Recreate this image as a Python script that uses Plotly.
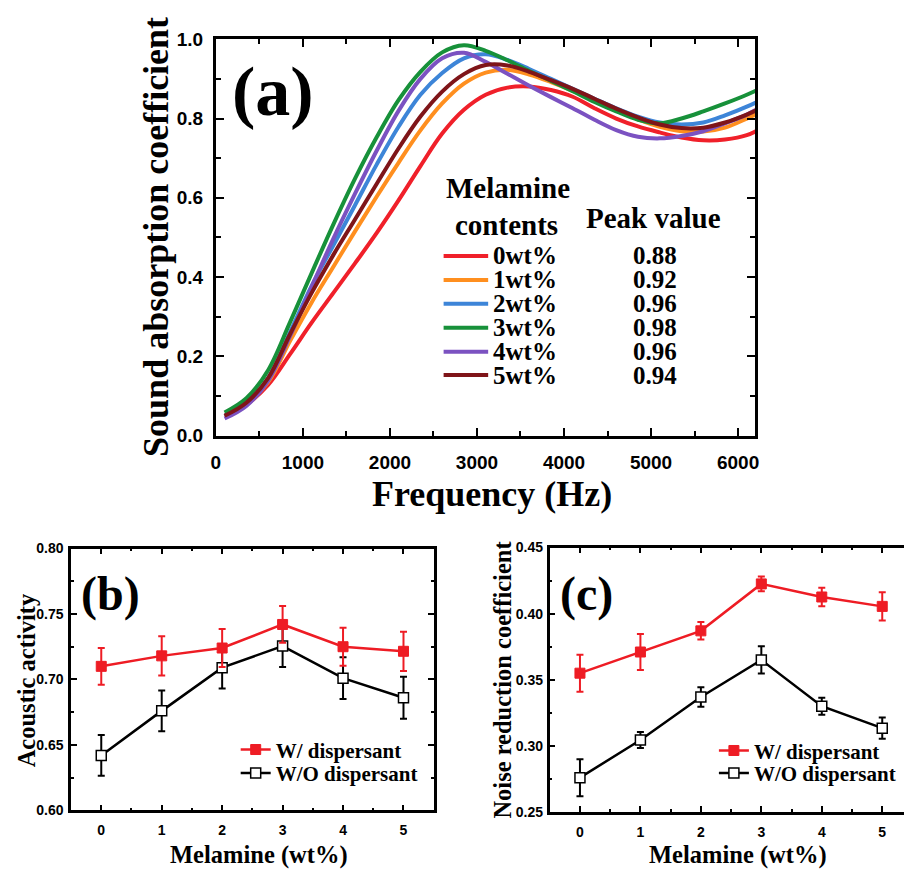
import plotly.graph_objects as go

# ---------------- data ----------------
freq = [100, 350, 600, 850, 1100, 1350, 1600, 1850, 2100, 2350, 2600, 2850, 3100, 3350, 3600,
        3850, 4100, 4350, 4600, 4850, 5100, 5350, 5600, 5850, 6100, 6350]
abs_0wt = [0.05, 0.078, 0.128, 0.205, 0.285, 0.36, 0.435, 0.512, 0.594, 0.68, 0.762, 0.822, 0.86,
           0.878, 0.881, 0.872, 0.855, 0.826, 0.80, 0.78, 0.765, 0.752, 0.745, 0.747, 0.758, 0.785]
abs_1wt = [0.05, 0.08, 0.135, 0.238, 0.336, 0.426, 0.516, 0.604, 0.689, 0.77, 0.838, 0.888, 0.916,
           0.923, 0.911, 0.892, 0.87, 0.845, 0.821, 0.798, 0.779, 0.768, 0.767, 0.777, 0.80, 0.825]
abs_2wt = [0.05, 0.082, 0.145, 0.26, 0.378, 0.48, 0.582, 0.685, 0.78, 0.86, 0.915, 0.952, 0.962,
           0.948, 0.925, 0.90, 0.875, 0.85, 0.826, 0.805, 0.79, 0.785, 0.79, 0.808, 0.83, 0.856]
abs_3wt = [0.058, 0.094, 0.165, 0.285, 0.41, 0.533, 0.649, 0.754, 0.847, 0.918, 0.967, 0.985, 0.971,
           0.947, 0.92, 0.895, 0.869, 0.842, 0.818, 0.797, 0.788, 0.80, 0.818, 0.838, 0.86, 0.885]
abs_4wt = [0.043, 0.075, 0.138, 0.25, 0.375, 0.497, 0.611, 0.72, 0.82, 0.90, 0.952, 0.966, 0.943,
           0.913, 0.883, 0.854, 0.826, 0.797, 0.771, 0.754, 0.75, 0.756, 0.768, 0.788, 0.81, 0.84]
abs_5wt = [0.05, 0.083, 0.145, 0.255, 0.36, 0.456, 0.546, 0.636, 0.725, 0.805, 0.868, 0.912, 0.935,
           0.934, 0.918, 0.897, 0.875, 0.85, 0.825, 0.803, 0.785, 0.776, 0.777, 0.79, 0.81, 0.835]
series_a = [abs_0wt, abs_1wt, abs_2wt, abs_3wt, abs_4wt, abs_5wt]
labels_a = ["0wt%", "1wt%", "2wt%", "3wt%", "4wt%", "5wt%"]
peaks_a = ["0.88", "0.92", "0.96", "0.98", "0.96", "0.94"]
colors_a = ["#f0202a", "#ff8f1f", "#3d85d8", "#17913a", "#7b52c1", "#7f1519"]

melamine = [0, 1, 2, 3, 4, 5]
aa_w = [0.710, 0.718, 0.724, 0.742, 0.725, 0.7215]
aa_w_err = [0.014, 0.015, 0.0145, 0.014, 0.0145, 0.015]
aa_wo = [0.642, 0.676, 0.709, 0.7255, 0.701, 0.686]
aa_wo_err = [0.0155, 0.0156, 0.016, 0.016, 0.016, 0.016]

nrc_w = [0.355, 0.371, 0.387, 0.4225, 0.4126, 0.4055]
nrc_w_err = [0.014, 0.0136, 0.0066, 0.0056, 0.007, 0.0107]
nrc_wo = [0.276, 0.3045, 0.337, 0.365, 0.330, 0.3134]
nrc_wo_err = [0.014, 0.006, 0.0074, 0.0103, 0.0064, 0.008]

W, H = 908, 878
SERIF = "Liberation Serif, Times New Roman, serif"
SANS = "Liberation Sans, Arial, sans-serif"
RED = "#ee1c24"


def px(x):
    return x / W


def py(y):
    return 1 - y / H


fig = go.Figure()

# ---------------- panel (a) ----------------
for vals, c, lab in zip(series_a, colors_a, labels_a):
    fig.add_trace(go.Scatter(x=freq, y=vals, mode="lines",
                             line=dict(color=c, width=4, shape="spline", smoothing=1.0),
                             name=lab, showlegend=False, xaxis="x", yaxis="y"))


# ---------------- panel (b) & (c) ----------------
def add_pair(y_wo, e_wo, y_w, e_w, xa, ya, leg_w, leg_wo):
    fig.add_trace(go.Scatter(x=melamine, y=y_wo, mode="lines+markers", name="W/O dispersant",
                             line=dict(color="black", width=2.5),
                             marker=dict(symbol="square", size=10, color="white",
                                         line=dict(color="black", width=1.5)),
                             error_y=dict(type="data", array=e_wo, color="black", thickness=2, width=3.5),
                             xaxis=xa, yaxis=ya, legend=leg_wo))
    fig.add_trace(go.Scatter(x=melamine, y=y_w, mode="lines+markers", name="W/ dispersant",
                             line=dict(color=RED, width=2.5),
                             marker=dict(symbol="square", size=10, color=RED, line=dict(color=RED, width=1)),
                             error_y=dict(type="data", array=e_w, color=RED, thickness=2, width=3.5),
                             xaxis=xa, yaxis=ya, legend=leg_w))


add_pair(aa_wo, aa_wo_err, aa_w, aa_w_err, "x2", "y2", "legend", "legend2")
add_pair(nrc_wo, nrc_wo_err, nrc_w, nrc_w_err, "x3", "y3", "legend3", "legend4")

tickfont_a = dict(family=SANS, size=19, color="black", weight="bold")
tickfont_b = dict(family=SANS, size=14, color="black", weight="bold")


def axis(domain, rng, dtick, minor_dtick, tickfont, lw, tl, fmt=None, mirror=True, anchor=None, standoff=0):
    d = dict(domain=domain, range=rng, dtick=dtick, tick0=0, ticks="inside", ticklen=tl, tickwidth=2,
             tickcolor="black", showline=True, linewidth=lw, linecolor="black",
             mirror="ticks" if mirror else False,
             showgrid=False, zeroline=False, tickfont=tickfont, anchor=anchor,
             ticklabelstandoff=standoff,
             minor=dict(ticks="inside", dtick=minor_dtick, ticklen=max(3, tl - 3), tickwidth=2,
                        tickcolor="black", showgrid=False))
    if fmt:
        d["tickformat"] = fmt
    return d


def leg(x, y):
    return dict(x=px(x), y=py(y), xanchor="left", yanchor="middle", bgcolor="rgba(0,0,0,0)",
                font=dict(family=SERIF, size=21, color="black", weight="bold"))


fig.update_layout(
    width=W, height=H, margin=dict(l=0, r=0, t=0, b=0),
    paper_bgcolor="white", plot_bgcolor="white",
    xaxis=axis([px(213), px(758)], [0, 6200], 1000, 500, tickfont_a, 3, 8, anchor="y", standoff=8),
    yaxis=axis([py(436), py(30)], [0, 1.0], 0.2, 0.1, tickfont_a, 3, 8, fmt=".1f", anchor="x", standoff=6),
    xaxis2=axis([px(66.7), px(433)], [-0.5, 5.5], 1, 0.5, tickfont_b, 2.5, 6, anchor="y2", standoff=5),
    yaxis2=axis([py(820), py(551.7)], [0.60, 0.80], 0.05, 0.025, tickfont_b, 2.5, 6, fmt=".2f",
                anchor="x2", standoff=2),
    xaxis3=axis([px(550), 1.0], [-0.503, 5.36], 1, 0.5, tickfont_b, 2.5, 6, anchor="y3", standoff=5),
    yaxis3=axis([py(821.7), py(550.7)], [0.25, 0.45], 0.05, 0.025, tickfont_b, 2.5, 6, fmt=".2f",
                anchor="x3", mirror=False, standoff=1),
    legend=leg(233, 758),
    legend2=leg(233, 782),
    legend3=leg(716, 759),
    legend4=leg(716, 782),
)

ann = []


def txt(x, y, s, size, angle=0, xanchor="center", family=SERIF):
    ann.append(dict(x=px(x), y=py(y), xref="paper", yref="paper", text=s, showarrow=False,
                    xanchor=xanchor, yanchor="middle", textangle=angle,
                    font=dict(family=family, size=size, color="black", weight="bold")))


# panel titles / axis titles
txt(271, 84, "(a)", 70)
txt(153, 232, "Sound absorption coefficient", 36, angle=-90)
txt(492, 496, "Frequency (Hz)", 36)
txt(107, 598, "(b)", 48)
txt(22, 687, "Acoustic activity", 24.5, angle=-90)
txt(257, 866, "Melamine (wt%)", 24.5)
txt(587, 598, "(c)", 48)
txt(503, 686, "Noise reduction coefficient", 24.5, angle=-90)
txt(740, 866, "Melamine (wt%)", 24.5)

# panel (a) custom legend table
txt(508, 182, "Melamine", 29)
txt(507, 220, "contents", 29)
txt(655, 213, "Peak value", 29)
rows_y = [252, 276.5, 301, 325.5, 350, 374]
shapes = []
for yy, lab, pk, c in zip(rows_y, labels_a, peaks_a, colors_a):
    shapes.append(dict(type="line", xref="paper", yref="paper", x0=px(443), x1=px(488), y0=py(yy), y1=py(yy),
                       line=dict(color=c, width=4)))
    txt(491, yy, lab, 25, xanchor="left")
    txt(657, yy, pk, 25)

fig.update_layout(annotations=ann, shapes=shapes)
fig.write_html("out.html")
